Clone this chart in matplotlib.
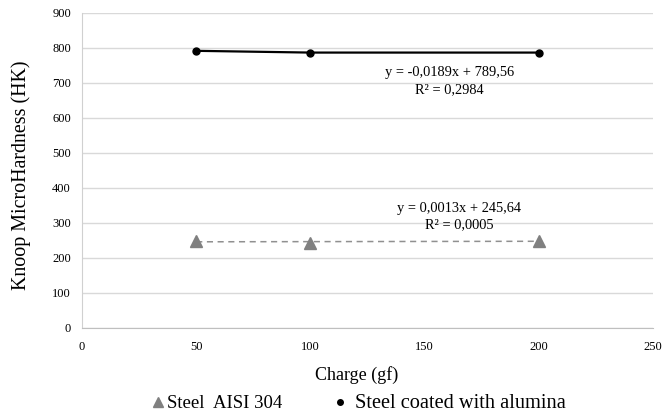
import matplotlib
matplotlib.use("Agg")
import matplotlib.pyplot as plt
from matplotlib.lines import Line2D
import numpy as np

plt.rcParams['font.family'] = ['Liberation Serif', 'DejaVu Serif']

charge = [50, 100, 200]
steel = [248, 241, 248]
alumina = [791, 786, 786]
x_ticks = [0, 50, 100, 150, 200, 250]
y_ticks = [0, 100, 200, 300, 400, 500, 600, 700, 800, 900]
steel_label = 'Steel  AISI 304'
alumina_label = 'Steel coated with alumina'
alumina_eq = ['y = -0,0189x + 789,56', 'R² = 0,2984']
steel_eq = ['y = 0,0013x + 245,64', 'R² = 0,0005']

W, H = 665, 417
fig = plt.figure(figsize=(W/100, H/100), dpi=100)
ax = fig.add_axes([82/W, (H-327.5)/H, 571/W, 314.8/H])

ax.plot(charge, alumina, color='black', lw=1.6, marker='o', ms=5, zorder=3)
# linear trend line for steel
k, b = np.polyfit(charge, steel, 1)
xs = np.array([charge[0], charge[-1]])
ax.plot(xs, k*xs + b, color='#909090', lw=1.1, ls=(0, (4, 3)), zorder=3)
ax.plot(charge, steel, color='#808080', lw=0, marker='^', ms=8.5, zorder=4)

ax.set_xlim(0, 250)
ax.set_ylim(0, 900)
ax.set_xticks(x_ticks)
ax.set_yticks(y_ticks)
ax.grid(axis='y', color='#d9d9d9', lw=1)
ax.set_axisbelow(True)
for s in ['top', 'right']:
    ax.spines[s].set_visible(False)
ax.spines['left'].set_color('#d0d0d0')
ax.spines['bottom'].set_color('#bfbfbf')
ax.tick_params(axis='y', length=0, labelsize=9, pad=8)
ax.tick_params(axis='x', length=0, labelsize=9, pad=10)

ax.text(161, 730, alumina_eq[0], ha='center', va='center', fontsize=10.4)
ax.text(161, 679, alumina_eq[1], ha='center', va='center', fontsize=10.4)
ax.text(165, 339, steel_eq[0], ha='center', va='center', fontsize=10.4)
ax.text(165, 293, steel_eq[1], ha='center', va='center', fontsize=10.4)

ax.set_xlabel('Charge (gf)', fontsize=13)
ax.xaxis.set_label_coords((356.5-82)/571, -(375-327.5)/314.8)
ax.xaxis.label.set_va('center')
ax.set_ylabel('Knoop MicroHardness (HK)', fontsize=14.4)
ax.yaxis.set_label_coords(-(82-21)/571, (327.5-175)/314.8)
ax.yaxis.label.set_va('center')

# legend (manual, below the plot)
fig.add_artist(Line2D([158/W], [(H-402)/H], transform=fig.transFigure,
                      color='#808080', marker='^', ms=7.5, ls='none'))
fig.text(167/W, (H-403)/H, steel_label, fontsize=13.5, va='center', ha='left')
fig.add_artist(Line2D([340/W], [(H-402)/H], transform=fig.transFigure,
                      color='black', marker='o', ms=4, ls='none'))
fig.text(355/W, (H-403)/H, alumina_label, fontsize=14.7, va='center', ha='left')

fig.savefig('out.png', dpi=100)
